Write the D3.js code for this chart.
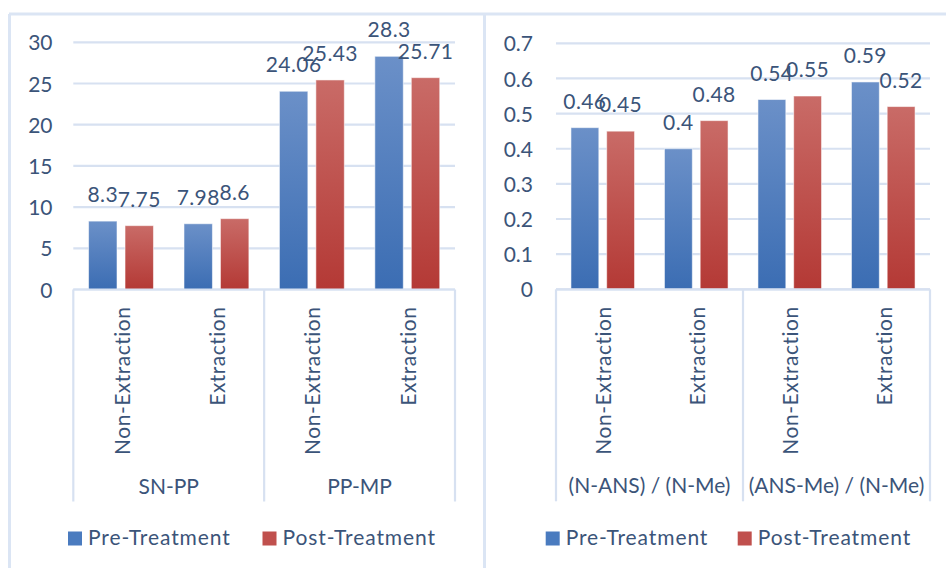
<!DOCTYPE html>
<html>
<head>
<meta charset="utf-8">
<script src="https://cdn.jsdelivr.net/npm/d3@7"></script>
<style>
  html, body { margin: 0; padding: 0; background: #ffffff; }
  svg { display: block; }
  text { font-family: Lato, "Open Sans", sans-serif; fill: #3b5479; }
</style>
</head>
<body>
<svg id="chart" width="946" height="568"></svg>
<script>
// ---- data ----
const subCategories = ["Non-Extraction", "Extraction"];
const seriesNames = ["Pre-Treatment", "Post-Treatment"];

const leftGroups = ["SN-PP", "PP-MP"];
const leftPre = [8.3, 7.98, 24.06, 28.3];
const leftPost = [7.75, 8.6, 25.43, 25.71];
const leftTicks = [0, 5, 10, 15, 20, 25, 30];

const rightGroups = ["(N-ANS) / (N-Me)", "(ANS-Me) / (N-Me)"];
const rightPre = [0.46, 0.4, 0.54, 0.59];
const rightPost = [0.45, 0.48, 0.55, 0.52];
const rightTicks = [0, 0.1, 0.2, 0.3, 0.4, 0.5, 0.6, 0.7];

const svg = d3.select("#chart");
const defs = svg.append("defs");

// vertical gradients for the two series
function gradient(id, top, bottom) {
  const g = defs.append("linearGradient").attr("id", id)
    .attr("x1", 0).attr("y1", 0).attr("x2", 0).attr("y2", 1);
  g.append("stop").attr("offset", "0%").attr("stop-color", top);
  g.append("stop").attr("offset", "100%").attr("stop-color", bottom);
}
gradient("gradPre", "#6b90c8", "#3b6db3");
gradient("gradPost", "#c96b67", "#b43935");
const fills = ["url(#gradPre)", "url(#gradPost)"];
const swatch = ["#4a7bbf", "#c0504d"];

const gridColor = "#d7e1f1";
const frameColor = "#dbe5f4";

// panel frame
svg.append("line").attr("x1", 9).attr("x2", 946).attr("y1", 14).attr("y2", 14)
  .attr("stroke", frameColor).attr("stroke-width", 3);
svg.append("line").attr("x1", 9.5).attr("x2", 9.5).attr("y1", 14).attr("y2", 568)
  .attr("stroke", frameColor).attr("stroke-width", 3);
svg.append("line").attr("x1", 484.5).attr("x2", 484.5).attr("y1", 14).attr("y2", 568)
  .attr("stroke", frameColor).attr("stroke-width", 3);

function panel(cfg) {
  const g = svg.append("g");
  const cats = [];
  cfg.groups.forEach(gr => subCategories.forEach(s => cats.push(gr + "|" + s)));

  const x = d3.scaleBand().domain(cats).range([cfg.x0, cfg.x1]).padding(0);
  const y = d3.scaleLinear().domain([0, cfg.max]).range([cfg.yBottom, cfg.yTop]);
  const slot = x.bandwidth();
  const inner = d3.scaleBand().domain(seriesNames)
    .range([-slot * 0.34, slot * 0.34]).paddingInner(0.22);

  // gridlines
  g.selectAll(".grid").data(cfg.ticks).join("line")
    .attr("x1", cfg.x0).attr("x2", cfg.x1)
    .attr("y1", d => y(d)).attr("y2", d => y(d))
    .attr("stroke", gridColor).attr("stroke-width", 2.2);

  // y axis labels
  const yAxis = d3.axisLeft(y).tickValues(cfg.ticks).tickSize(0).tickPadding(0)
    .tickFormat(d => d3.format(cfg.fmt)(d));
  const ya = g.append("g").attr("transform", `translate(${cfg.labelRight},0)`).call(yAxis);
  ya.select(".domain").remove();
  ya.selectAll("text").attr("font-size", 21).attr("fill", "#3b5479")
    .attr("font-family", "Lato, 'Open Sans', sans-serif").attr("dy", "0.36em");

  // bars
  const series = [cfg.pre, cfg.post];
  series.forEach((vals, si) => {
    g.selectAll(".bar" + si).data(vals).join("rect")
      .attr("x", (d, i) => x(cats[i]) + slot / 2 + inner(seriesNames[si]))
      .attr("width", inner.bandwidth())
      .attr("y", d => y(d))
      .attr("height", d => y(0) - y(d))
      .attr("fill", fills[si])
      .attr("stroke", "#ffffff").attr("stroke-opacity", 0.55).attr("stroke-width", 1);
  });

  // value labels
  series.forEach((vals, si) => {
    g.selectAll(".lab" + si).data(vals).join("text")
      .attr("x", (d, i) => x(cats[i]) + slot / 2 + inner(seriesNames[si]) + inner.bandwidth() / 2)
      .attr("y", d => y(d) - 19)
      .attr("text-anchor", "middle").attr("font-size", 21)
      .attr("letter-spacing", 0.4)
      .text(d => String(d));
  });

  // category axis boxes
  const boxBottom = cfg.yBottom + 212;
  const dividers = [cfg.x0, x(cats[2]), cfg.x1];
  g.append("line").attr("x1", cfg.x0).attr("x2", cfg.x1)
    .attr("y1", y(0)).attr("y2", y(0)).attr("stroke", gridColor).attr("stroke-width", 2.2);
  g.selectAll(".div").data(dividers).join("line")
    .attr("x1", d => d).attr("x2", d => d)
    .attr("y1", y(0)).attr("y2", boxBottom)
    .attr("stroke", gridColor).attr("stroke-width", 2.2);

  // rotated sub-category labels
  g.selectAll(".cat").data(cats).join("text")
    .attr("transform", d => `translate(${x(d) + slot / 2},${y(0) + 17}) rotate(-90)`)
    .attr("text-anchor", "end").attr("dominant-baseline", "central")
    .attr("font-size", 21).attr("letter-spacing", 0.5)
    .text(d => d.split("|")[1]);

  // group labels
  g.selectAll(".grp").data(cfg.groups).join("text")
    .attr("x", (d, i) => (dividers[i] + dividers[i + 1]) / 2)
    .attr("y", cfg.yBottom + 204)
    .attr("text-anchor", "middle").attr("font-size", cfg.groupSize)
    .text(d => d);

  // legend
  const lg = g.append("g");
  seriesNames.forEach((s, i) => {
    const lx = cfg.legendX[i];
    lg.append("rect").attr("x", lx).attr("y", 531.5).attr("width", 14).attr("height", 14)
      .attr("fill", swatch[i]);
    lg.append("text").attr("x", lx + 20).attr("y", 545).attr("font-size", 21)
      .attr("letter-spacing", 0.9).text(s);
  });
}

panel({
  groups: leftGroups, pre: leftPre, post: leftPost, ticks: leftTicks, max: 30, fmt: "d",
  x0: 73.3, x1: 455, yBottom: 289.5, yTop: 42.3, labelRight: 52.5,
  legendX: [68, 262.5], groupSize: 21
});

panel({
  groups: rightGroups, pre: rightPre, post: rightPost, ticks: rightTicks, max: 0.7, fmt: "",
  x0: 556, x1: 930, yBottom: 289.3, yTop: 43.3, labelRight: 533,
  legendX: [545.7, 737.7], groupSize: 21
});
</script>
</body>
</html>
